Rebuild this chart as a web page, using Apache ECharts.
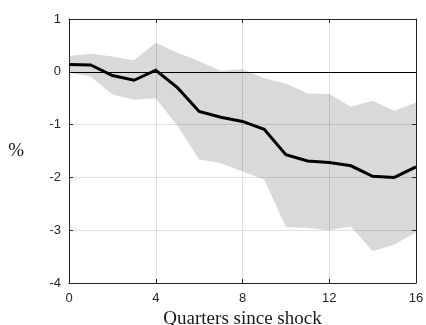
<!DOCTYPE html>
<html>
<head>
<meta charset="utf-8">
<style>
  html, body { margin: 0; padding: 0; background: #fff; }
  #chart { width: 426px; height: 325px; }
</style>
<script src="https://cdn.jsdelivr.net/npm/echarts@6/dist/echarts.min.js"></script>
</head>
<body>
<div id="chart"></div>
<script>
// Impulse response: horizon in quarters, median response and confidence band (%)
const quarters = [0, 1, 2, 3, 4, 5, 6, 7, 8, 9, 10, 11, 12, 13, 14, 15, 16];
const median = [0.14, 0.13, -0.07, -0.16, 0.03, -0.30, -0.75, -0.86, -0.94, -1.09, -1.57, -1.69, -1.72, -1.78, -1.98, -2.00, -1.80];
const bandLower = [-0.02, -0.09, -0.43, -0.53, -0.50, -1.02, -1.66, -1.73, -1.89, -2.04, -2.94, -2.96, -3.00, -2.93, -3.40, -3.27, -3.04];
const bandUpper = [0.30, 0.34, 0.29, 0.22, 0.55, 0.36, 0.20, 0.02, 0.05, -0.12, -0.22, -0.41, -0.42, -0.66, -0.55, -0.74, -0.58];
const xTicks = [0, 4, 8, 12, 16];
const yRange = { min: -4, max: 1 };

const pair = (arr) => quarters.map((q, i) => [q, arr[i]]);
const bandRows = quarters.map((q, i) => [q, bandLower[i], bandUpper[i]]);

const axisColor = '#262626';
const labelFont = { fontFamily: 'Liberation Sans, Arial, sans-serif', fontSize: 13, color: axisColor };
const serifFont = 'Liberation Serif, "DejaVu Serif", serif';

// Shaded band: one polygon running along the upper bound and back along the lower bound
function renderBand(params, api) {
  if (params.dataIndex !== 0) return null;
  const top = bandRows.map(r => api.coord([r[0], r[2]]));
  const bottom = bandRows.map(r => api.coord([r[0], r[1]])).reverse();
  return {
    type: 'polygon',
    shape: { points: top.concat(bottom) },
    style: { fill: '#d9d9d9', stroke: null }
  };
}

const chart = echarts.init(document.getElementById('chart'), null, { renderer: 'canvas' });

chart.setOption({
  animation: false,
  grid: { left: 69, right: 10, top: 19, bottom: 42, containLabel: false, outerBoundsMode: 'none' },
  xAxis: [
    {
      type: 'value', min: xTicks[0], max: xTicks[xTicks.length - 1], interval: 4,
      z: 3,
      name: 'Quarters since shock', nameLocation: 'middle', nameGap: 25,
      nameTextStyle: { fontFamily: serifFont, fontSize: 19, color: '#1a1a1a' },
      axisLine: { show: true, onZero: false, lineStyle: { color: axisColor, width: 1 } },
      axisTick: { show: true, inside: true, length: 4, lineStyle: { color: axisColor } },
      axisLabel: Object.assign({ margin: 9 }, labelFont),
      splitLine: { show: true, lineStyle: { color: 'rgba(0,0,0,0.12)', width: 1 } }
    },
    {
      type: 'value', position: 'top', min: xTicks[0], max: xTicks[xTicks.length - 1], interval: 4,
      z: 3,
      axisLine: { show: true, onZero: false, lineStyle: { color: axisColor, width: 1 } },
      axisTick: { show: true, inside: true, length: 4, lineStyle: { color: axisColor } },
      axisLabel: { show: false },
      splitLine: { show: false }
    }
  ],
  yAxis: [
    {
      type: 'value', min: yRange.min, max: yRange.max, interval: 1,
      z: 3,
      name: '%', nameLocation: 'middle', nameRotate: 0, nameGap: 45,
      nameTextStyle: { fontFamily: serifFont, fontSize: 19, color: '#1a1a1a' },
      axisLine: { show: true, onZero: false, lineStyle: { color: axisColor, width: 1 } },
      axisTick: { show: true, inside: true, length: 4, lineStyle: { color: axisColor } },
      axisLabel: Object.assign({ margin: 8 }, labelFont),
      splitLine: { show: true, lineStyle: { color: 'rgba(0,0,0,0.12)', width: 1 } }
    },
    {
      type: 'value', position: 'right', min: yRange.min, max: yRange.max, interval: 1,
      z: 3,
      axisLine: { show: true, onZero: false, lineStyle: { color: axisColor, width: 1 } },
      axisTick: { show: true, inside: true, length: 4, lineStyle: { color: axisColor } },
      axisLabel: { show: false },
      splitLine: { show: false }
    }
  ],
  series: [
    {
      name: 'band', type: 'custom', renderItem: renderBand,
      data: bandRows, encode: { x: 0, y: [1, 2] },
      z: 1, silent: true
    },
    {
      name: 'median', type: 'line', data: pair(median),
      symbol: 'none', z: 5,
      lineStyle: { color: '#000', width: 3, join: 'miter' },
      markLine: {
        silent: true, symbol: 'none', label: { show: false },
        lineStyle: { color: '#000', width: 1, type: 'solid' },
        data: [{ yAxis: 0 }]
      }
    }
  ]
});
</script>
</body>
</html>
